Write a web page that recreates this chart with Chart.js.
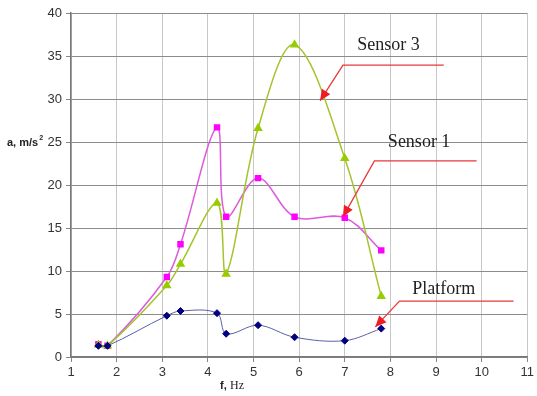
<!DOCTYPE html>
<html>
<head>
<meta charset="utf-8">
<script src="https://cdn.jsdelivr.net/npm/chart.js@4/dist/chart.umd.min.js"></script>
<style>
  html, body { margin: 0; padding: 0; background: #fff; }
  #chart { display: block; }
</style>
</head>
<body>
<canvas id="chart" width="537" height="396"></canvas>
<script>
// frequency, Hz
const freq = [1.6, 1.8, 3.1, 3.4, 4.2, 4.4, 5.1, 5.9, 7.0, 7.8];
// acceleration, m/s^2
const platform = [1.3, 1.3, 4.8, 5.35, 5.1, 2.7, 3.7, 2.3, 1.9, 3.3];
const sensor1 = [1.5, 1.3, 9.3, 13.1, 26.7, 16.3, 20.8, 16.3, 16.2, 12.4];
const sensor3 = [1.4, 1.3, 8.3, 10.8, 17.9, 9.65, 26.6, 36.3, 23.1, 7.05];

const xTicks = [1, 2, 3, 4, 5, 6, 7, 8, 9, 10, 11];
const yTicks = [0, 5, 10, 15, 20, 25, 30, 35, 40];

// callout labels: text position, horizontal leader, arrow tip (data units)
const callouts = [
  { text: 'Sensor 3', tx: 7.96, ty: 36.3, y: 33.95, x0: 6.96, x1: 9.17, tipX: 6.46, tipY: 29.8 },
  { text: 'Sensor 1', tx: 8.63, ty: 25.0, y: 22.8, x0: 7.65, x1: 9.89, tipX: 6.96, tipY: 16.3 },
  { text: 'Platform', tx: 9.17, ty: 7.9, y: 6.5, x0: 8.2, x1: 10.7, tipX: 7.67, tipY: 3.5 }
];

function toPoints(values) {
  return freq.map((f, i) => ({ x: f, y: values[i] }));
}

const annotationPlugin = {
  id: 'callouts',
  afterDraw(chart) {
    const ctx = chart.ctx;
    const xs = chart.scales.x;
    const ys = chart.scales.y;
    ctx.save();

    callouts.forEach(c => {
      const lx0 = xs.getPixelForValue(c.x0);
      const lx1 = xs.getPixelForValue(c.x1);
      const ly = ys.getPixelForValue(c.y);
      const px = xs.getPixelForValue(c.tipX);
      const py = ys.getPixelForValue(c.tipY);

      ctx.strokeStyle = '#e8383b';
      ctx.lineWidth = 1.3;
      ctx.beginPath();
      ctx.moveTo(lx1, ly);
      ctx.lineTo(lx0, ly);
      ctx.lineTo(px, py);
      ctx.stroke();

      // arrow head
      const ang = Math.atan2(py - ly, px - lx0);
      const len = 11, half = 5;
      ctx.fillStyle = '#ee1c24';
      ctx.beginPath();
      ctx.moveTo(px, py);
      ctx.lineTo(px - len * Math.cos(ang) + half * Math.sin(ang), py - len * Math.sin(ang) - half * Math.cos(ang));
      ctx.lineTo(px - len * Math.cos(ang) - half * Math.sin(ang), py - len * Math.sin(ang) + half * Math.cos(ang));
      ctx.closePath();
      ctx.fill();

      ctx.fillStyle = '#222';
      ctx.font = '18px "Liberation Serif", serif';
      ctx.textAlign = 'center';
      ctx.textBaseline = 'middle';
      ctx.fillText(c.text, xs.getPixelForValue(c.tx), ys.getPixelForValue(c.ty));
    });

    // axis titles
    ctx.fillStyle = '#222';
    ctx.textBaseline = 'alphabetic';
    ctx.textAlign = 'left';
    ctx.font = 'bold 11px "Liberation Sans", Arial, sans-serif';
    ctx.fillText('a, m/s', 7, 146);
    const w = ctx.measureText('a, m/s').width;
    ctx.font = 'bold 7px "Liberation Sans", Arial, sans-serif';
    ctx.fillText('2', 7 + w + 1, 140);

    ctx.font = 'bold 11px "Liberation Sans", Arial, sans-serif';
    ctx.fillText('f,', 220, 389);
    ctx.font = '12px "Liberation Serif", serif';
    ctx.fillText('Hz', 230, 389);

    ctx.restore();
  }
};

new Chart(document.getElementById('chart'), {
  type: 'scatter',
  data: {
    datasets: [
      {
        label: 'Platform',
        data: toPoints(platform),
        showLine: true,
        borderColor: '#5a5fa8',
        borderWidth: 1,
        backgroundColor: '#000080',
        pointBorderColor: '#000080',
        pointStyle: 'rectRot',
        pointRadius: 3.5,
        tension: 0.35
      },
      {
        label: 'Sensor 3',
        data: toPoints(sensor3),
        showLine: true,
        borderColor: '#a3c42c',
        borderWidth: 1.5,
        backgroundColor: '#99cc00',
        pointBorderColor: '#99cc00',
        pointStyle: 'triangle',
        pointRadius: 4,
        tension: 0.35
      },
      {
        label: 'Sensor 1',
        data: toPoints(sensor1),
        showLine: true,
        borderColor: '#dd5add',
        borderWidth: 1.5,
        backgroundColor: '#ff00ff',
        pointBorderColor: '#ff00ff',
        pointStyle: 'rect',
        pointRadius: 3.5,
        tension: 0.35
      }
    ]
  },
  options: {
    responsive: false,
    animation: false,
    layout: { padding: { top: 13, right: 7, left: 0, bottom: 0 } },
    plugins: {
      legend: { display: false },
      tooltip: { enabled: false }
    },
    scales: {
      x: {
        type: 'linear',
        min: 1,
        max: 11,
        afterBuildTicks: scale => { scale.ticks = xTicks.map(v => ({ value: v })); },
        afterFit: scale => { scale.height = 39; },
        grid: {
          color: '#c8c8c8',
          lineWidth: 1,
          tickLength: 5,
          tickColor: '#888'
        },
        border: { color: '#777', width: 1.5 },
        ticks: {
          color: '#333',
          padding: 3,
          maxRotation: 0,
          font: { size: 13, family: '"Liberation Sans", Arial, sans-serif' }
        }
      },
      y: {
        type: 'linear',
        min: 0,
        max: 40,
        afterBuildTicks: scale => { scale.ticks = yTicks.map(v => ({ value: v })); },
        afterFit: scale => { scale.width = 71; },
        grid: {
          color: '#8c8c8c',
          lineWidth: 1,
          tickLength: 5,
          tickColor: '#888'
        },
        border: { color: '#777', width: 1.5 },
        ticks: {
          color: '#333',
          padding: 4,
          font: { size: 13, family: '"Liberation Sans", Arial, sans-serif' }
        }
      }
    }
  },
  plugins: [annotationPlugin]
});
</script>
</body>
</html>
